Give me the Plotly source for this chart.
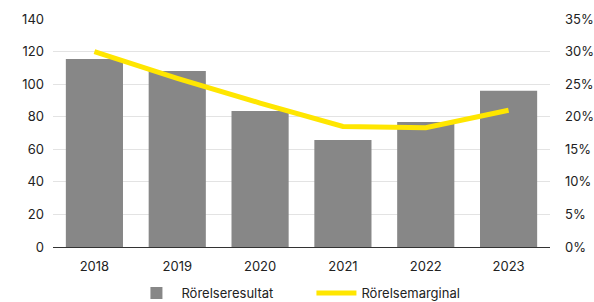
import plotly.graph_objects as go

years = ["2018", "2019", "2020", "2021", "2022", "2023"]
rorelseresultat = [115.5, 108, 83.5, 65.7, 76.7, 96]
rorelsemarginal = [30.0, 25.9, 22.1, 18.5, 18.3, 21.0]

font = dict(family="Inter, Roboto, sans-serif", size=13, color="#222222")

fig = go.Figure()
fig.add_trace(go.Bar(x=years, y=rorelseresultat, name="Rörelseresultat",
                     marker=dict(color="#878787", line=dict(width=0)), yaxis="y"))
fig.add_trace(go.Scatter(x=years, y=rorelsemarginal, name="Rörelsemarginal",
                         mode="lines", line=dict(color="#FFE600", width=5), yaxis="y2"))

fig.update_layout(
    width=594, height=302,
    margin=dict(l=53, r=44, t=19, b=55, autoexpand=False),
    paper_bgcolor="white", plot_bgcolor="white",
    font=font,
    bargap=0.31,
    showlegend=True,
    legend=dict(orientation="h", x=0.52, xanchor="center",
                yref="container", y=0.03, yanchor="middle",
                font=dict(size=13), itemwidth=40, entrywidth=125,
                tracegroupgap=0, bgcolor="rgba(0,0,0,0)"),
    xaxis=dict(showgrid=False, ticks="", showline=False, tickfont=font,
               automargin=False, ticklabelstandoff=10),
    yaxis=dict(range=[0, 140], dtick=20, gridcolor="#e3e3e3", gridwidth=1,
               zeroline=True, zerolinecolor="#333333", zerolinewidth=1,
               ticks="", tickfont=font, ticklabelstandoff=8, automargin=False),
    yaxis2=dict(range=[0, 35], dtick=5, overlaying="y", side="right",
                showgrid=False, zeroline=False, ticksuffix="%", ticks="",
                tickfont=font, ticklabelstandoff=14, automargin=False),
)

fig.write_html("out.html", post_script="document.body.style.margin='0';",
               config={"displayModeBar": False})
